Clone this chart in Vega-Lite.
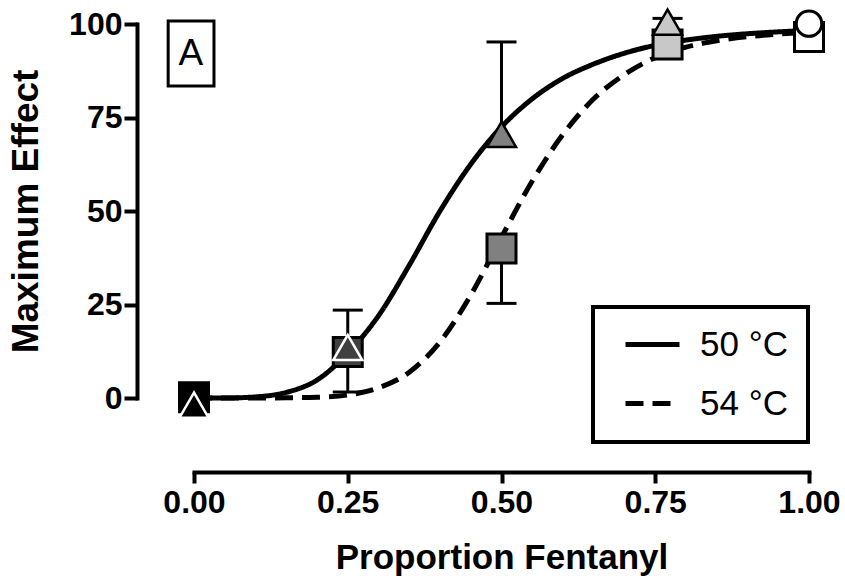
{
  "$schema": "https://vega.github.io/schema/vega-lite/v6.json",
  "width": 615,
  "height": 374,
  "autosize": {"type": "none"},
  "padding": {"left": 194, "top": 24, "right": 36, "bottom": 187},
  "background": "white",
  "config": {
    "view": {"stroke": null},
    "font": "Liberation Sans",
    "axis": {
      "grid": false,
      "domainColor": "black",
      "domainWidth": 4,
      "domainCap": "square",
      "tickColor": "black",
      "tickWidth": 4,
      "labelFont": "Liberation Sans",
      "labelFontWeight": "bold",
      "labelFontSize": 32,
      "labelColor": "black",
      "labelFlush": false,
      "labelOverlap": false,
      "titleFont": "Liberation Sans",
      "titleFontWeight": "bold",
      "titleColor": "black"
    },
    "legend": {
      "orient": "none",
      "legendX": 399,
      "legendY": 283,
      "padding": 20,
      "strokeColor": "black",
      "symbolType": "M-2,0H2",
      "symbolSize": 729,
      "symbolStrokeWidth": 5,
      "symbolStrokeColor": "black",
      "symbolOffset": 22,
      "labelOffset": 30,
      "labelFont": "Liberation Sans",
      "labelFontSize": 35,
      "labelColor": "black",
      "rowPadding": 23
    }
  },
  "datasets": {
    "points": [
      {"p": 0, "t": "50 °C", "v": -1.9, "e": 3.7},
      {"p": 0.25, "t": "50 °C", "v": 13.5, "e": 23.5},
      {"p": 0.5, "t": "50 °C", "v": 70.5, "e": 95.2},
      {"p": 0.77, "t": "50 °C", "v": 100.5, "e": 101.5},
      {"p": 1, "t": "50 °C", "v": 100.1, "e": 100.1},
      {"p": 0, "t": "54 °C", "v": 0.2, "e": -1},
      {"p": 0.25, "t": "54 °C", "v": 12.3, "e": 1.6},
      {"p": 0.5, "t": "54 °C", "v": 40, "e": 25.3},
      {"p": 0.77, "t": "54 °C", "v": 94.5, "e": 92},
      {"p": 1, "t": "54 °C", "v": 96.5, "e": 96.5}
    ],
    "curves": [
      {"p": 0, "t": "50 °C", "v": 0},
      {"p": 0.05, "t": "50 °C", "v": 0},
      {"p": 0.1, "t": "50 °C", "v": 0.3},
      {"p": 0.15, "t": "50 °C", "v": 1.5},
      {"p": 0.2, "t": "50 °C", "v": 4.8},
      {"p": 0.25, "t": "50 °C", "v": 12},
      {"p": 0.3, "t": "50 °C", "v": 22},
      {"p": 0.35, "t": "50 °C", "v": 35.5},
      {"p": 0.4, "t": "50 °C", "v": 50},
      {"p": 0.45, "t": "50 °C", "v": 62.5},
      {"p": 0.5, "t": "50 °C", "v": 72.5},
      {"p": 0.55, "t": "50 °C", "v": 80},
      {"p": 0.6, "t": "50 °C", "v": 85.5},
      {"p": 0.65, "t": "50 °C", "v": 89.3},
      {"p": 0.7, "t": "50 °C", "v": 92.2},
      {"p": 0.75, "t": "50 °C", "v": 94.3},
      {"p": 0.8, "t": "50 °C", "v": 95.7},
      {"p": 0.85, "t": "50 °C", "v": 96.7},
      {"p": 0.9, "t": "50 °C", "v": 97.4},
      {"p": 0.95, "t": "50 °C", "v": 97.9},
      {"p": 1, "t": "50 °C", "v": 98.3},
      {"p": 0, "t": "54 °C", "v": 0},
      {"p": 0.05, "t": "54 °C", "v": 0},
      {"p": 0.1, "t": "54 °C", "v": 0},
      {"p": 0.15, "t": "54 °C", "v": 0.05},
      {"p": 0.2, "t": "54 °C", "v": 0.2},
      {"p": 0.25, "t": "54 °C", "v": 0.8},
      {"p": 0.3, "t": "54 °C", "v": 2.7},
      {"p": 0.35, "t": "54 °C", "v": 6.9},
      {"p": 0.4, "t": "54 °C", "v": 15},
      {"p": 0.45, "t": "54 °C", "v": 27.5},
      {"p": 0.5, "t": "54 °C", "v": 43},
      {"p": 0.55, "t": "54 °C", "v": 58},
      {"p": 0.6, "t": "54 °C", "v": 70.5},
      {"p": 0.65, "t": "54 °C", "v": 80},
      {"p": 0.7, "t": "54 °C", "v": 86.5},
      {"p": 0.75, "t": "54 °C", "v": 91},
      {"p": 0.8, "t": "54 °C", "v": 93.8},
      {"p": 0.85, "t": "54 °C", "v": 95.5},
      {"p": 0.9, "t": "54 °C", "v": 96.6},
      {"p": 0.95, "t": "54 °C", "v": 97.3},
      {"p": 1, "t": "54 °C", "v": 97.8}
    ],
    "panel": [{"label": "A"}]
  },
  "layer": [
    {
      "data": {"name": "curves"},
      "mark": {"type": "line", "stroke": "black", "strokeWidth": 5, "interpolate": "monotone", "clip": false},
      "encoding": {
        "x": {"field": "p", "type": "quantitative", "scale": {"domain": [0, 1], "nice": false, "zero": false},
          "axis": {"values": [0, 0.25, 0.5, 0.75, 1], "format": ".2f", "offset": 74, "tickSize": 11, "labelPadding": 4, "titlePadding": 22, "titleFontSize": 35},
          "title": "Proportion Fentanyl"},
        "y": {"field": "v", "type": "quantitative", "scale": {"domain": [0, 100], "nice": false, "zero": false},
          "axis": {"values": [0, 25, 50, 75, 100], "offset": 57, "tickSize": 13, "labelPadding": 2, "titlePadding": 23, "titleFontSize": 37},
          "title": "Maximum Effect"},
        "strokeDash": {"field": "t", "type": "nominal",
          "scale": {"domain": ["50 °C", "54 °C"], "range": [[1, 0], [18, 9]]},
          "legend": {"title": null, "encode": {"legend": {"update": {"strokeWidth": {"value": 4}, "fill": {"value": "white"}}}}}}
      }
    },
    {
      "data": {"name": "points"},
      "mark": {"type": "rule", "stroke": "black", "strokeWidth": 3},
      "encoding": {
        "x": {"field": "p", "type": "quantitative"},
        "y": {"field": "v", "type": "quantitative"},
        "y2": {"field": "e"}
      }
    },
    {
      "data": {"name": "points"},
      "mark": {"type": "tick", "orient": "horizontal", "color": "black", "size": 30, "thickness": 3, "opacity": 1},
      "encoding": {
        "x": {"field": "p", "type": "quantitative"},
        "y": {"field": "e", "type": "quantitative"}
      }
    },
    {
      "data": {"name": "points"},
      "transform": [{"filter": "datum.t === '54 °C'"}],
      "mark": {"type": "point", "shape": "square", "size": 841, "filled": true, "opacity": 1, "stroke": "black", "strokeWidth": 3},
      "encoding": {
        "x": {"field": "p", "type": "quantitative"},
        "y": {"field": "v", "type": "quantitative"},
        "fill": {"field": "p", "type": "ordinal", "scale": {"domain": [0, 0.25, 0.5, 0.77, 1], "range": ["#000000", "#404040", "#808080", "#c8c8c8", "#ffffff"]}, "legend": null}
      }
    },
    {
      "data": {"name": "points"},
      "transform": [{"filter": "datum.t === '50 °C' && datum.p < 1"}],
      "mark": {"type": "point", "shape": "triangle-up", "size": 841, "filled": true, "opacity": 1, "strokeWidth": 2.5},
      "encoding": {
        "x": {"field": "p", "type": "quantitative"},
        "y": {"field": "v", "type": "quantitative"},
        "fill": {"field": "p", "type": "ordinal", "legend": null},
        "stroke": {"field": "p", "type": "ordinal", "scale": {"domain": [0, 0.25, 0.5, 0.77, 1], "range": ["#ffffff", "#ffffff", "#000000", "#000000", "#000000"]}, "legend": null}
      }
    },
    {
      "data": {"name": "points"},
      "transform": [{"filter": "datum.t === '50 °C' && datum.p === 1"}],
      "mark": {"type": "point", "shape": "circle", "size": 650, "filled": true, "opacity": 1, "stroke": "black", "strokeWidth": 3},
      "encoding": {
        "x": {"field": "p", "type": "quantitative"},
        "y": {"field": "v", "type": "quantitative"},
        "fill": {"field": "p", "type": "ordinal", "legend": null}
      }
    },
    {
      "data": {"name": "panel"},
      "mark": {"type": "rect", "fill": "white", "stroke": "black", "strokeWidth": 3},
      "encoding": {
        "x": {"datum": -0.042, "type": "quantitative"},
        "x2": {"datum": 0.0325},
        "y": {"datum": 100.8, "type": "quantitative"},
        "y2": {"datum": 83.4}
      }
    },
    {
      "data": {"name": "panel"},
      "mark": {"type": "text", "font": "Liberation Sans", "fontSize": 37, "color": "black", "align": "center", "baseline": "middle"},
      "encoding": {
        "x": {"datum": -0.005, "type": "quantitative"},
        "y": {"datum": 92.1, "type": "quantitative"},
        "text": {"field": "label"}
      }
    }
  ]
}
